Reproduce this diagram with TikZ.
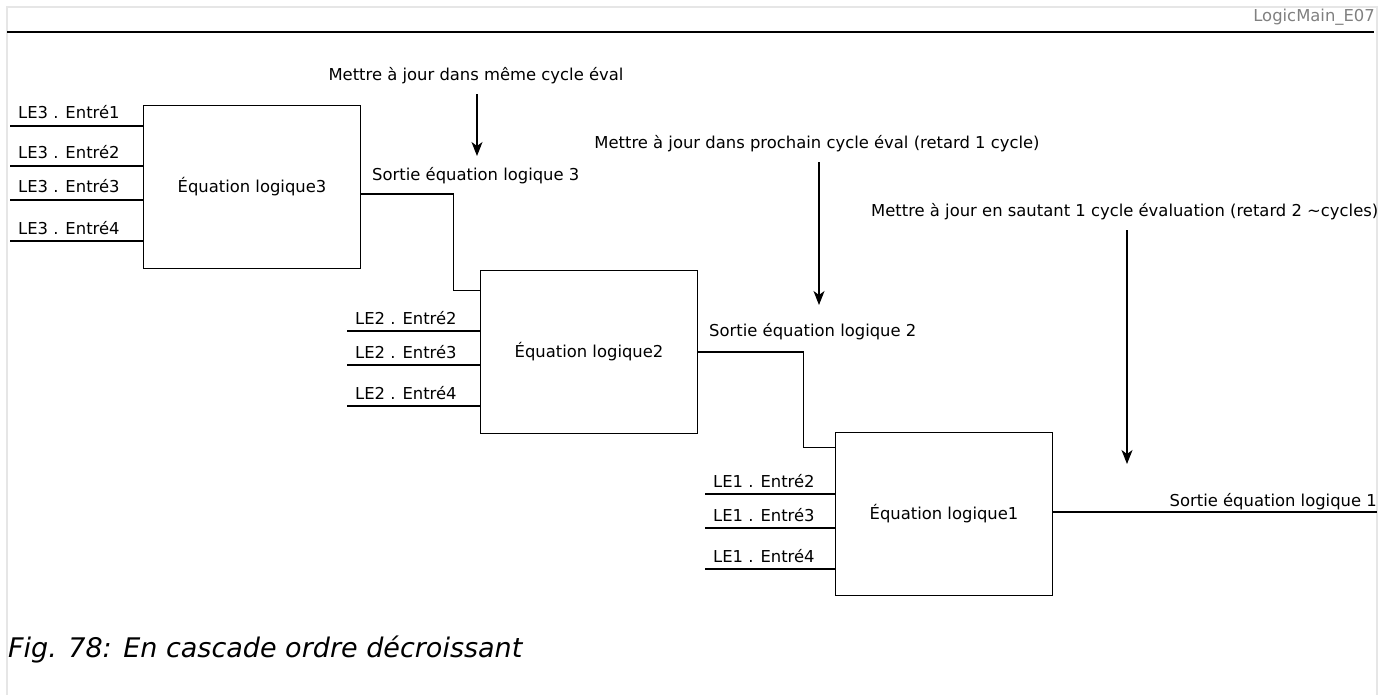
\documentclass[tikz,border=0pt]{standalone}
\usepackage{fontspec}
\setmainfont{DejaVu Sans}
\usetikzlibrary{positioning,arrows.meta,calc}
\definecolor{lgrey}{HTML}{E6E6E6}
\definecolor{tgrey}{HTML}{808080}
\tikzset{
 eqbox/.style={draw, line width=1.2pt, minimum width=217pt, minimum height=163pt, inner sep=0pt, font=\fontsize{16.4}{19}\selectfont},
 lbl/.style={font=\fontsize{16.4}{19}\selectfont, inner sep=0pt},
 wire/.style={line width=1.1pt},
 arr/.style={-{Stealth[length=14pt,width=11pt,inset=4pt]}, line width=1.1pt}
}

\begin{document}
\begin{tikzpicture}[x=1pt,y=-1pt]
 \useasboundingbox (0,0) rectangle (1384,695);
 \draw[lgrey, line width=1.5pt] (7,695) -- (7,7) -- (1377,7) -- (1377,695);
 \draw[line width=2.8pt] (7,32) -- (1374,32);
 \node[lbl, text=tgrey, anchor=east] (id) at (1375,17) {LogicMain\_E07};
 \node[eqbox] (eq3) at (252,187) {Équation logique3};
 \node[eqbox] (eq2) at (589,352) {Équation logique2};
 \node[eqbox] (eq1) at (944,514) {Équation logique1};
 \foreach \n/\y in {1/126,2/166,3/200,4/241} {
  \coordinate (a3\n) at (10,\y);
  \draw[wire] (a3\n) -- (a3\n -| eq3.west);
  \node[lbl, anchor=base west] (l3\n) at ([xshift=8pt,yshift=7pt]a3\n) {LE3 . Entré\n};
 }
 \foreach \n/\y in {2/331,3/365,4/406} {
  \coordinate (a2\n) at (347,\y);
  \draw[wire] (a2\n) -- (a2\n -| eq2.west);
  \node[lbl, anchor=base west] (l2\n) at ([xshift=8pt,yshift=7pt]a2\n) {LE2 . Entré\n};
 }
 \foreach \n/\y in {2/494,3/528,4/569} {
  \coordinate (a1\n) at (705,\y);
  \draw[wire] (a1\n) -- (a1\n -| eq1.west);
  \node[lbl, anchor=base west] (l1\n) at ([xshift=8pt,yshift=7pt]a1\n) {LE1 . Entré\n};
 }
 \coordinate (j3) at ([yshift=-21pt]eq2.north west);
 \draw[wire] ([yshift=-7pt]eq3.east) -| ([xshift=-26pt]j3) -- (j3);
 \node[lbl, anchor=base west] (s3) at (372,181) {Sortie équation logique 3};
 \coordinate (j2) at ([yshift=-16pt]eq1.north west);
 \draw[wire] (eq2.east) -| ([xshift=-31pt]j2) -- (j2);
 \node[lbl, anchor=base west] (s2) at (709,336) {Sortie équation logique 2};
 \coordinate (o1) at (1377,512);
 \draw[wire] (eq1.east |- o1) -- (o1);
 \node[lbl, anchor=base east] (s1) at (1377,506) {Sortie équation logique 1};
 \node[lbl] (m1) at (476,76) {Mettre à jour dans même cycle éval};
 \coordinate (t1) at (477,156);
 \draw[arr] ([yshift=-10pt]t1 |- m1.south) -- (t1);
 \node[lbl] (m2) at (817,144) {Mettre à jour dans prochain cycle éval (retard 1 cycle)};
 \coordinate (t2) at (819,305);
 \draw[arr] ([yshift=-10pt]t2 |- m2.south) -- (t2);
 \node[lbl, anchor=west] (m3) at (871,212) {Mettre à jour en sautant 1 cycle évaluation (retard 2 \textasciitilde cycles)};
 \coordinate (t3) at (1127,464);
 \draw[arr] ([yshift=-10pt]t3 |- m3.south) -- (t3);
 \node[font=\fontsize{27}{31}\selectfont\itshape, anchor=west, inner sep=0pt] (cap) at (8,650) {Fig. 78: En cascade ordre décroissant};
\end{tikzpicture}
\end{document}
